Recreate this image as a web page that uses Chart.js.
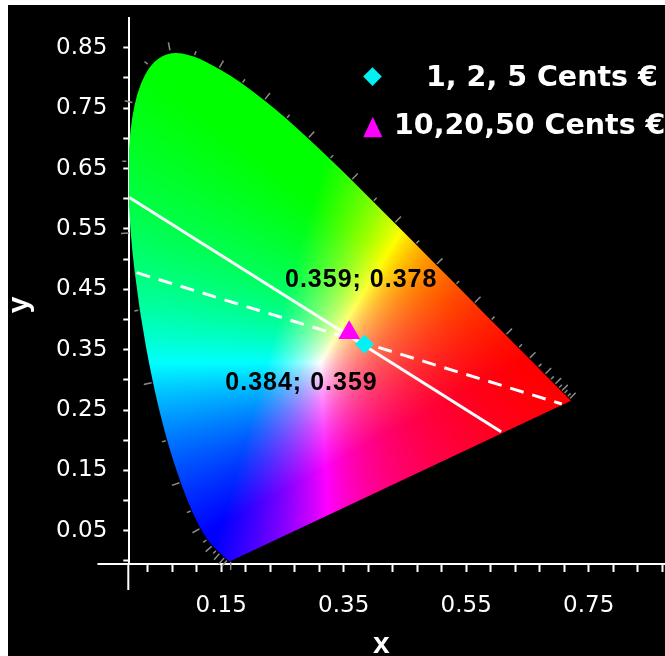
<!DOCTYPE html>
<html>
<head>
<meta charset="utf-8">
<script src="https://cdn.jsdelivr.net/npm/chart.js@4.4.1/dist/chart.umd.min.js"></script>
<style>
  html, body { margin: 0; padding: 0; background: #fff; }
  #wrap { width: 665px; height: 656px; }
</style>
</head>
<body>
<div id="wrap"><canvas id="cie-chart" width="665" height="656"></canvas></div>
<script>
// spectral locus as it sits on the axes of the picture (x, y per wavelength)
const locusNm = [380, 385, 390, 395, 400, 405, 410, 415, 420, 425, 430, 435, 440, 445, 450, 455, 460, 465, 470, 475,
  480, 485, 490, 495, 500, 505, 510, 515, 520, 525, 530, 535, 540, 545, 550, 555, 560, 565, 570, 575,
  580, 585, 590, 595, 600, 605, 610, 615, 620, 625, 630, 635, 640, 645, 650, 655, 660, 665, 670, 680, 690, 700];
const locusX = [0.1655, 0.1654, 0.1652, 0.1650, 0.1647, 0.1644, 0.1640, 0.1635, 0.1628, 0.1618, 0.1604, 0.1584, 0.1559, 0.1526, 0.1482, 0.1426, 0.1357, 0.1273, 0.1160, 0.1016,
  0.0835, 0.0611, 0.0380, 0.0163, 0.0011, -0.0032, 0.0068, 0.0315, 0.0666, 0.1062, 0.1463, 0.1842, 0.2205, 0.2564, 0.2919, 0.3273, 0.3627, 0.3980, 0.4331, 0.4675,
  0.5009, 0.5329, 0.5630, 0.5905, 0.6144, 0.6354, 0.6528, 0.6670, 0.6783, 0.6873, 0.6945, 0.7006, 0.7055, 0.7095, 0.7125, 0.7147, 0.7164, 0.7175, 0.7184, 0.7198, 0.7208, 0.7211];
const locusY = [0.0001, 0.0001, 0.0000, 0.0000, 0.0000, 0.0000, 0.0000, 0.0000, 0.0002, 0.0009, 0.0021, 0.0038, 0.0061, 0.0091, 0.0131, 0.0182, 0.0253, 0.0357, 0.0539, 0.0834,
  0.1302, 0.1995, 0.2955, 0.4154, 0.5434, 0.6620, 0.7592, 0.8221, 0.8443, 0.8366, 0.8159, 0.7911, 0.7633, 0.7328, 0.7002, 0.6662, 0.6311, 0.5956, 0.5600, 0.5249,
  0.4907, 0.4579, 0.4271, 0.3989, 0.3744, 0.3530, 0.3352, 0.3207, 0.3090, 0.2999, 0.2924, 0.2862, 0.2811, 0.2772, 0.2741, 0.2718, 0.2700, 0.2689, 0.2680, 0.2666, 0.2656, 0.2653];

// the two coin groups
const coinLabels = ['1, 2, 5 Cents €', '10,20,50 Cents €'];
const coinX = [0.384, 0.359];
const coinY = [0.359, 0.378];

// white lines through the points
const solidX = [0.000, 0.607];
const solidY = [0.602, 0.214];
const dashX = [0.012, 0.706];
const dashY = [0.4775, 0.260];

// axis ticks
const xTicks = [0.03, 0.07, 0.11, 0.15, 0.19, 0.23, 0.27, 0.31, 0.35, 0.39, 0.43, 0.47, 0.51, 0.55, 0.59, 0.63, 0.67, 0.71, 0.75, 0.79, 0.83, 0.87];
const xTickLabels = ['0.15', '0.35', '0.55', '0.75'];
const yTicks = [0, 0.05, 0.1, 0.15, 0.2, 0.25, 0.3, 0.35, 0.4, 0.45, 0.5, 0.55, 0.6, 0.65, 0.7, 0.75, 0.8, 0.85];
const yTickLabels = ['0.05', '0.15', '0.25', '0.35', '0.45', '0.55', '0.65', '0.75', '0.85'];

const LOCUS = 4;

function toPoints(xs, ys) {
    return xs.map((x, i) => ({x: x, y: ys[i]}));
}

// xy chromaticity -> rgb, brightest possible, no gamma (keeps it saturated like the original)
function chromaColor(x, y) {
    if (y < 0.001) y = 0.001;
    let X = x / y, Z = (1 - x - y) / y;
    let r = Math.max(0, 3.2406 * X - 1.5372 - 0.4986 * Z);
    let g = Math.max(0, -0.9689 * X + 1.8758 + 0.0415 * Z);
    let b = Math.max(0, 0.0557 * X - 0.2040 + 1.0570 * Z);
    let m = Math.max(r, g, b) || 1;
    return [Math.round(255 * r / m), Math.round(255 * g / m), Math.round(255 * b / m)];
}

// no extra room for the tick labels, the axes sit where the picture has them
function noScalePadding(s) {
    s.paddingTop = 0;
    s.paddingBottom = 0;
    s.paddingLeft = 0;
    s.paddingRight = 0;
}

// white frame + black panel
const backdrop = {
    id: 'backdrop',
    beforeDraw(chart) {
        const ctx = chart.ctx;
        ctx.save();
        ctx.fillStyle = '#fff';
        ctx.fillRect(0, 0, chart.width, chart.height);
        ctx.fillStyle = '#000';
        ctx.fillRect(8, 5, chart.width - 8, chart.height - 5);
        ctx.restore();
    }
};

// colour fill of the horseshoe + wavelength marks
const locusFill = {
    id: 'locusFill',
    beforeDatasetsDraw(chart) {
        const ctx = chart.ctx;
        const a = chart.chartArea;
        const sx = chart.scales.x, sy = chart.scales.y;
        const pts = chart.getDatasetMeta(LOCUS).data;
        const dpr = chart.currentDevicePixelRatio || 1;
        const w = Math.round((a.right - a.left) * dpr);
        const h = Math.round((a.bottom - a.top) * dpr);

        const off = document.createElement('canvas');
        off.width = w;
        off.height = h;
        const octx = off.getContext('2d');
        const img = octx.createImageData(w, h);
        const cols = [];
        for (let i = 0; i < w; i++) cols.push(sx.getValueForPixel(a.left + (i + 0.5) / dpr));
        for (let j = 0; j < h; j++) {
            const cy = sy.getValueForPixel(a.top + (j + 0.5) / dpr);
            for (let i = 0; i < w; i++) {
                const c = chromaColor(cols[i], cy);
                const k = (j * w + i) * 4;
                img.data[k] = c[0];
                img.data[k + 1] = c[1];
                img.data[k + 2] = c[2];
                img.data[k + 3] = 255;
            }
        }
        octx.putImageData(img, 0, 0);

        ctx.save();
        ctx.beginPath();
        ctx.moveTo(pts[0].x, pts[0].y);
        for (let i = 1; i < pts.length - 1; i++) {
            const mx = (pts[i].x + pts[i + 1].x) / 2, my = (pts[i].y + pts[i + 1].y) / 2;
            ctx.quadraticCurveTo(pts[i].x, pts[i].y, mx, my);
        }
        ctx.lineTo(pts[pts.length - 1].x, pts[pts.length - 1].y);
        ctx.closePath();
        ctx.clip();
        ctx.drawImage(off, a.left, a.top, a.right - a.left, a.bottom - a.top);
        ctx.restore();

        // little grey marks every 5 nm, longer every 10 nm (skip the ones piled up at the ends)
        const cx = sx.getPixelForValue(0.33), cy = sy.getPixelForValue(0.33);
        ctx.save();
        ctx.strokeStyle = '#8a8a8a';
        ctx.lineWidth = 1.5;
        let last = null;
        for (let i = 0; i < pts.length; i++) {
            const p = pts[i];
            if (last && Math.hypot(p.x - last.x, p.y - last.y) < 3) continue;
            last = p;
            const p0 = pts[Math.max(0, i - 1)], p1 = pts[Math.min(pts.length - 1, i + 1)];
            let tx = p1.x - p0.x, ty = p1.y - p0.y;
            let len = Math.hypot(tx, ty) || 1;
            let nx = -ty / len, ny = tx / len;
            if (nx * (p.x - cx) + ny * (p.y - cy) < 0) { nx = -nx; ny = -ny; }
            const l = locusNm[i] % 10 === 0 ? 9 : 5;
            ctx.beginPath();
            ctx.moveTo(p.x + nx, p.y + ny);
            ctx.lineTo(p.x + nx * l, p.y + ny * l);
            ctx.stroke();
        }
        ctx.restore();
    }
};

// legend, point labels, axis titles, axis stubs
const overlay = {
    id: 'overlay',
    afterDraw(chart) {
        const ctx = chart.ctx;
        const a = chart.chartArea;
        const sx = chart.scales.x, sy = chart.scales.y;

        ctx.save();
        // axis lines run a bit past the origin
        ctx.strokeStyle = '#fff';
        ctx.lineWidth = 2;
        ctx.beginPath();
        ctx.moveTo(sx.getPixelForValue(-0.052), a.bottom);
        ctx.lineTo(a.left, a.bottom);
        ctx.moveTo(a.left - 1, a.bottom);
        ctx.lineTo(a.left - 1, sy.getPixelForValue(-0.048));
        ctx.stroke();

        // legend
        ctx.fillStyle = '#00f2f2';
        ctx.beginPath();
        ctx.moveTo(372.5, 67.3);
        ctx.lineTo(381.8, 76.6);
        ctx.lineTo(372.5, 85.9);
        ctx.lineTo(363.2, 76.6);
        ctx.closePath();
        ctx.fill();
        ctx.fillStyle = '#ff00ff';
        ctx.beginPath();
        ctx.moveTo(372.8, 116.7);
        ctx.lineTo(382.3, 137.3);
        ctx.lineTo(363.3, 137.3);
        ctx.closePath();
        ctx.fill();

        ctx.fillStyle = '#fff';
        ctx.font = 'bold 28.5px "DejaVu Sans"';
        ctx.textAlign = 'left';
        ctx.textBaseline = 'alphabetic';
        ctx.fillText(coinLabels[0], 426, 85.5);
        ctx.fillText(coinLabels[1], 394, 133.5);

        // point labels
        ctx.fillStyle = '#000';
        ctx.font = 'bold 25px "Liberation Sans"';
        ctx.letterSpacing = '1px';
        ctx.textAlign = 'center';
        ctx.textBaseline = 'middle';
        const d = chart.getDatasetMeta(0).data[0];
        const t = chart.getDatasetMeta(1).data[0];
        ctx.fillText(coinX[1].toFixed(3) + '; ' + coinY[1].toFixed(3), t.x + 12, t.y - 53);
        ctx.fillText(coinX[0].toFixed(3) + '; ' + coinY[0].toFixed(3), d.x - 63, d.y + 39);
        ctx.letterSpacing = '0px';

        // axis titles
        ctx.fillStyle = '#fff';
        ctx.font = 'bold 30px "Liberation Sans"';
        ctx.textAlign = 'center';
        ctx.textBaseline = 'alphabetic';
        ctx.fillText('x', 381.3, 653.3);
        ctx.translate(27.6, 305);
        ctx.rotate(-Math.PI / 2);
        ctx.fillText('y', 0, 0);
        ctx.restore();
    }
};

Chart.defaults.font.family = 'DejaVu Sans';

const ctx = document.getElementById('cie-chart').getContext('2d');
const chart = new Chart(ctx, {
    type: 'scatter',
    data: {
        datasets: [
            {
                label: coinLabels[0],
                data: [{x: coinX[0], y: coinY[0]}],
                pointStyle: 'rectRot',
                pointRadius: 9.5,
                backgroundColor: '#00f2f2',
                borderWidth: 0,
                order: 0
            },
            {
                label: coinLabels[1],
                data: [{x: coinX[1], y: coinY[1]}],
                pointStyle: 'triangle',
                pointRadius: 12.5,
                backgroundColor: '#ff00ff',
                borderWidth: 0,
                order: 0
            },
            {
                label: 'solid',
                data: toPoints(solidX, solidY),
                showLine: true,
                borderColor: '#fff',
                borderWidth: 3,
                pointRadius: 0,
                order: 1
            },
            {
                label: 'dashed',
                data: toPoints(dashX, dashY),
                showLine: true,
                borderColor: '#fff',
                borderWidth: 3,
                borderDash: [14, 9],
                pointRadius: 0,
                order: 1
            },
            {
                label: 'locus',
                data: toPoints(locusX, locusY),
                showLine: false,
                pointRadius: 0,
                order: 2
            }
        ]
    },
    options: {
        responsive: false,
        animation: false,
        events: [],
        layout: { autoPadding: false, padding: { left: 0, right: 0, top: 17.6, bottom: 0 } },
        plugins: {
            legend: { display: false },
            tooltip: { enabled: false }
        },
        scales: {
            x: {
                type: 'linear',
                position: 'bottom',
                min: 0,
                max: 0.8746,
                z: 1,
                afterFit: (s) => { s.height = 92; noScalePadding(s); },
                afterBuildTicks: (s) => { s.ticks = xTicks.map(v => ({value: v})); },
                grid: { drawOnChartArea: false, drawTicks: true, tickLength: 8, tickWidth: 2, tickColor: '#fff' },
                border: { display: true, color: '#fff', width: 2 },
                ticks: {
                    autoSkip: false,
                    maxRotation: 0,
                    color: '#fff',
                    padding: 20,
                    font: { family: 'DejaVu Sans', size: 23 },
                    callback: (v) => xTickLabels.includes(v.toFixed(2)) ? v.toFixed(2) : ''
                }
            },
            y: {
                type: 'linear',
                position: 'left',
                min: -0.005,
                max: 0.9,
                z: 1,
                afterFit: (s) => { s.width = 129.3; noScalePadding(s); },
                afterBuildTicks: (s) => { s.ticks = yTicks.map(v => ({value: v})); },
                grid: { drawOnChartArea: false, drawTicks: true, tickLength: 6, tickWidth: 2, tickColor: '#fff' },
                border: { display: true, color: '#fff', width: 2 },
                ticks: {
                    autoSkip: false,
                    color: '#fff',
                    padding: 16,
                    font: { family: 'DejaVu Sans', size: 23 },
                    callback: (v) => yTickLabels.includes(v.toFixed(2)) ? v.toFixed(2) : ''
                }
            }
        }
    },
    plugins: [backdrop, locusFill, overlay]
});
</script>
</body>
</html>
